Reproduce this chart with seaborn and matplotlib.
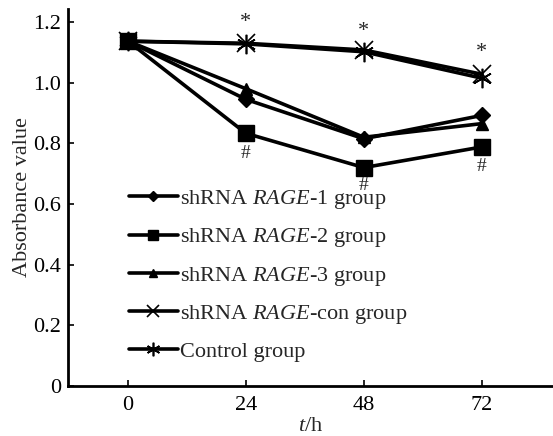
import matplotlib
matplotlib.use("Agg")
import matplotlib.pyplot as plt
import seaborn as sns
import pandas as pd

times = [0, 24, 48, 72]
groups = ["shRNA $\\it{RAGE}$-1 group", "shRNA $\\it{RAGE}$-2 group",
          "shRNA $\\it{RAGE}$-3 group", "shRNA $\\it{RAGE}$-con group", "Control group"]
rage1 = [1.137, 0.945, 0.815, 0.892]
rage2 = [1.137, 0.833, 0.720, 0.788]
rage3 = [1.137, 0.980, 0.820, 0.865]
rcon = [1.137, 1.130, 1.108, 1.028]
ctrl = [1.137, 1.128, 1.102, 1.015]
star_x = [24, 48, 72]
star_y = [1.20, 1.17, 1.10]
hash_y = [0.765, 0.660, 0.725]

sns.set_style("ticks")
plt.rcParams['font.family'] = ['Liberation Serif', 'DejaVu Serif']
plt.rcParams['mathtext.fontset'] = 'custom'
plt.rcParams['mathtext.it'] = 'Liberation Serif:italic'
plt.rcParams['mathtext.rm'] = 'Liberation Serif'

rows = []
for g, vals in zip(groups, [rage1, rage2, rage3, rcon, ctrl]):
    for t, v in zip(times, vals):
        rows.append({"t": t, "v": v, "group": g})
df = pd.DataFrame(rows)

fig = plt.figure(figsize=(5.53, 4.36), dpi=100)
ax = fig.add_axes([0.123, 0.115, 0.877, 0.865])

markers = {groups[0]: "D", groups[1]: "s", groups[2]: "^", groups[3]: "x", groups[4]: (6, 2, 0)}
sizes = {groups[0]: 8, groups[1]: 11, groups[2]: 9, groups[3]: 13, groups[4]: 14}
for g in groups:
    sub = df[df.group == g]
    sns.lineplot(data=sub, x="t", y="v", ax=ax, color="black", marker=markers[g],
                 markersize=sizes[g], linewidth=2.6, markeredgewidth=1.2 if g in groups[3:] else 1,
                 markerfacecolor="black", markeredgecolor="black", label=g)

for x, y in zip(star_x, star_y):
    ax.text(x, y, "*", ha="center", va="center", fontsize=16)
for x, y in zip(star_x, hash_y):
    ax.text(x, y, "#", ha="center", va="center", fontsize=14)

ax.set_xlim(-12.2, 86.5)
ax.set_ylim(0, 1.244)
ax.set_xticks(times)
ax.set_yticks([0, 0.2, 0.4, 0.6, 0.8, 1.0, 1.2])
ax.set_yticklabels(["0", "0.2", "0.4", "0.6", "0.8", "1.0", "1.2"])
ax.tick_params(direction="in", labelsize=16, width=1.2, length=4, colors="black")
ax.tick_params(axis="y", pad=5)
ax.tick_params(axis="x", pad=7)
for s in ["top", "right"]:
    ax.spines[s].set_visible(False)
for s in ["left", "bottom"]:
    ax.spines[s].set_linewidth(2)
    ax.spines[s].set_color("black")
ax.set_xlabel("$\\it{t}$/h", fontsize=16, labelpad=2)
ax.set_ylabel("Absorbance value", fontsize=16, labelpad=1)

ax.legend(loc="lower left", bbox_to_anchor=(0.107, 0.04), frameon=False, fontsize=16,
          handlelength=2.2, handletextpad=0.1, labelspacing=0.69, borderaxespad=0,
          markerscale=0.7)

fig.savefig("out.png", dpi=100)
